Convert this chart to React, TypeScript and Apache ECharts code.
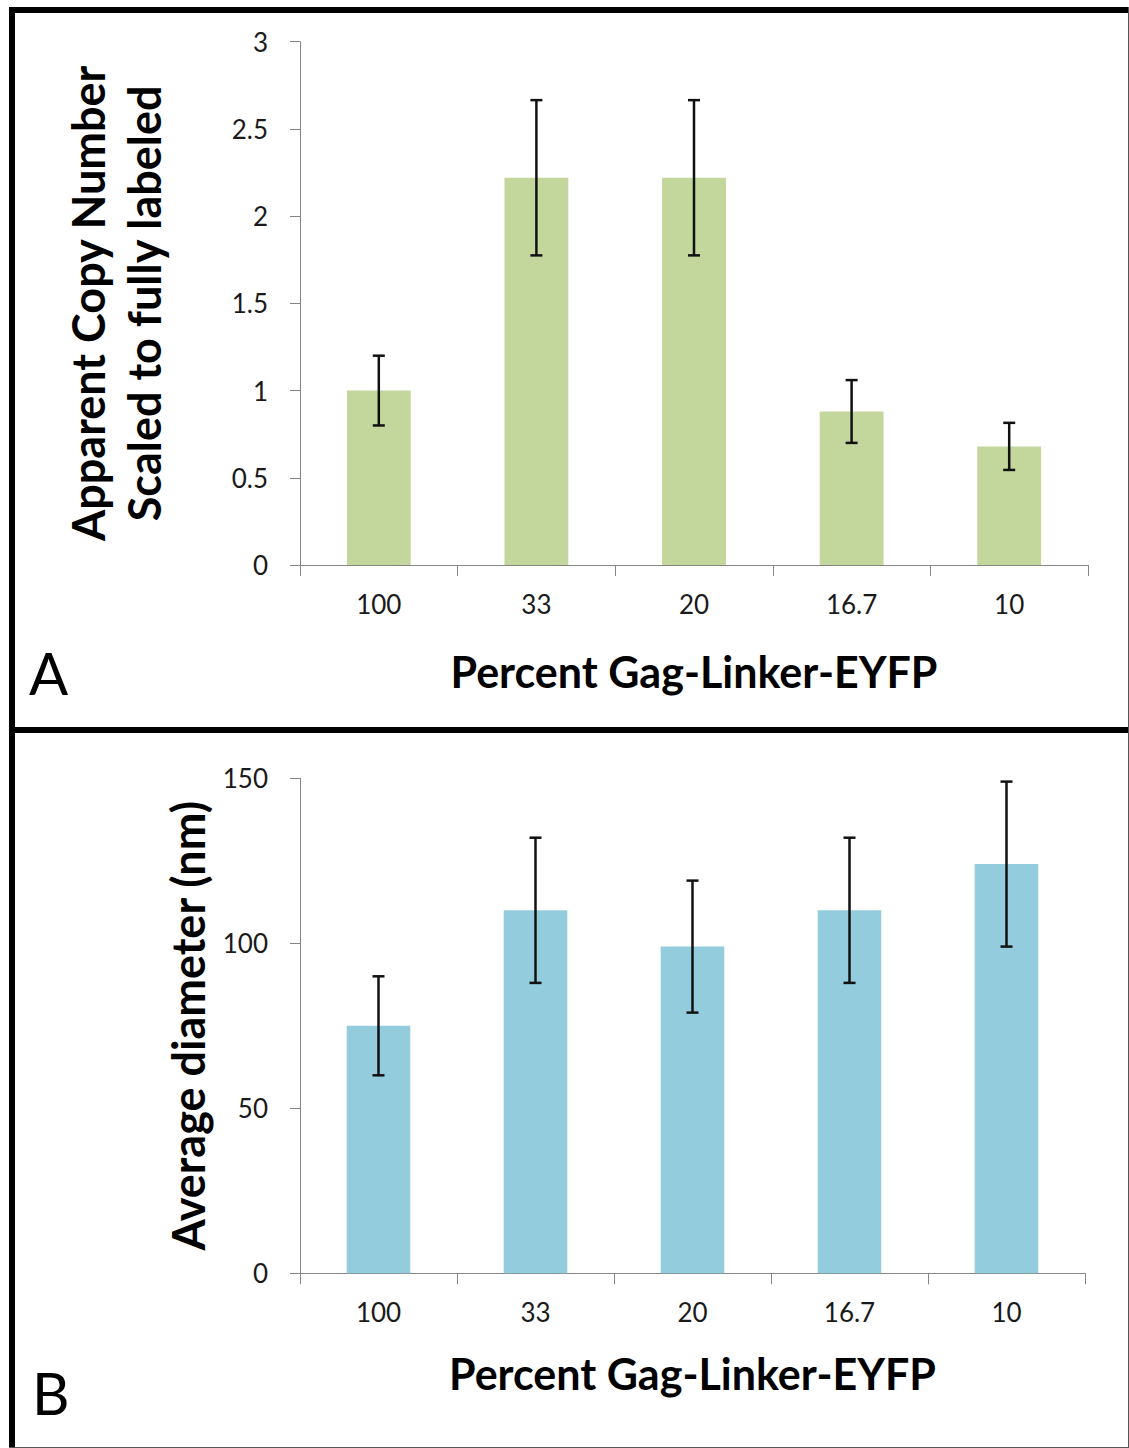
import React, { useEffect, useRef } from "react";
import * as echarts from "echarts";

// Gag-Linker-EYFP labeling fractions (x categories shared by both panels)
const categories = ["100", "33", "20", "16.7", "10"];

// Panel A: apparent copy number scaled to fully labeled, with error half-widths
const copyNumber = [1.0, 2.22, 2.22, 0.88, 0.68];
const copyNumberErr = [0.2, 0.445, 0.445, 0.18, 0.135];

// Panel B: average particle diameter (nm), with error half-widths
const diameter = [75, 110, 99, 110, 124];
const diameterErr = [15, 22, 20, 22, 25];

const FONT = "Lato, 'Open Sans', sans-serif";
const AXIS_GRAY = "#868686";
const TEXT = "#1a1a1a";

function errorRows(values: number[], errs: number[]) {
  return values.map((v, i) => [i, v - errs[i], v + errs[i]]);
}

function renderErrorBar(params: any, api: any) {
  const idx = api.value(0);
  const lo = api.coord([idx, api.value(1)]);
  const hi = api.coord([idx, api.value(2)]);
  const half = 6;
  const style = { stroke: "#111", lineWidth: 2.5 };
  return {
    type: "group",
    children: [
      { type: "line", shape: { x1: hi[0], y1: hi[1], x2: lo[0], y2: lo[1] }, style },
      { type: "line", shape: { x1: hi[0] - half, y1: hi[1], x2: hi[0] + half, y2: hi[1] }, style },
      { type: "line", shape: { x1: lo[0] - half, y1: lo[1], x2: lo[0] + half, y2: lo[1] }, style },
    ],
  };
}

function xAxisFor(gridIndex: number, nameGap: number) {
  return {
    type: "category",
    gridIndex,
    data: categories,
    name: "Percent Gag-Linker-EYFP",
    nameLocation: "middle",
    nameGap,
    nameTextStyle: { fontFamily: FONT, fontWeight: "bold", fontSize: 43, color: "#000" },
    axisLine: { show: true, lineStyle: { color: AXIS_GRAY, width: 1 } },
    axisTick: { show: true, length: 11, lineStyle: { color: AXIS_GRAY } },
    axisLabel: { fontFamily: FONT, fontSize: 26, color: TEXT, margin: 26 },
    splitLine: { show: false },
  };
}

export default function App() {
  const ref = useRef<HTMLDivElement>(null);

  useEffect(() => {
    if (!ref.current) return;
    const chart = echarts.init(ref.current, undefined, { renderer: "svg" });

    const option = {
      animation: false,
      backgroundColor: "#fff",
      grid: [
        { left: 300, top: 41.7, width: 788, height: 523.3 },
        { left: 300, top: 778.3, width: 785, height: 495 },
      ],
      xAxis: [xAxisFor(0, 85), xAxisFor(1, 79)],
      yAxis: [
        {
          type: "value",
          gridIndex: 0,
          min: 0,
          max: 3,
          interval: 0.5,
          name: "Apparent Copy Number\nScaled to fully labeled",
          nameLocation: "middle",
          nameGap: 128,
          nameTextStyle: {
            fontFamily: FONT,
            fontWeight: "bold",
            fontSize: 45,
            lineHeight: 56,
            color: "#000",
          },
          axisLine: { show: true, lineStyle: { color: AXIS_GRAY, width: 1 } },
          axisTick: { show: true, length: 10, lineStyle: { color: AXIS_GRAY } },
          axisLabel: { fontFamily: FONT, fontSize: 26, color: TEXT, margin: 32 },
          splitLine: { show: false },
        },
        {
          type: "value",
          gridIndex: 1,
          min: 0,
          max: 150,
          interval: 50,
          name: "Average diameter (nm)",
          nameLocation: "middle",
          nameGap: 90,
          nameTextStyle: { fontFamily: FONT, fontWeight: "bold", fontSize: 45, color: "#000" },
          axisLine: { show: true, lineStyle: { color: AXIS_GRAY, width: 1 } },
          axisTick: { show: true, length: 10, lineStyle: { color: AXIS_GRAY } },
          axisLabel: { fontFamily: FONT, fontSize: 26, color: TEXT, margin: 32 },
          splitLine: { show: false },
        },
      ],
      series: [
        {
          type: "bar",
          xAxisIndex: 0,
          yAxisIndex: 0,
          data: copyNumber,
          barWidth: "40.5%",
          itemStyle: { color: "#C3D69B" },
        },
        {
          type: "custom",
          xAxisIndex: 0,
          yAxisIndex: 0,
          data: errorRows(copyNumber, copyNumberErr),
          renderItem: renderErrorBar,
          z: 5,
        },
        {
          type: "bar",
          xAxisIndex: 1,
          yAxisIndex: 1,
          data: diameter,
          barWidth: "40.5%",
          itemStyle: { color: "#93CDDD" },
        },
        {
          type: "custom",
          xAxisIndex: 1,
          yAxisIndex: 1,
          data: errorRows(diameter, diameterErr),
          renderItem: renderErrorBar,
          z: 5,
        },
      ],
      graphic: [
        // panel frames
        { type: "rect", shape: { x: 9, y: 7, width: 6, height: 1441 }, style: { fill: "#000" } },
        { type: "rect", shape: { x: 9, y: 7, width: 1120, height: 6 }, style: { fill: "#000" } },
        { type: "rect", shape: { x: 9, y: 727, width: 1120, height: 6 }, style: { fill: "#000" } },
        { type: "line", shape: { x1: 1128.5, y1: 7, x2: 1128.5, y2: 1448 }, style: { stroke: "#555", lineWidth: 1 } },
        { type: "line", shape: { x1: 9, y1: 1447.5, x2: 1129, y2: 1447.5 }, style: { stroke: "#555", lineWidth: 1 } },
        // panel letters
        {
          type: "text",
          x: 29,
          y: 672,
          style: { text: "A", fontFamily: FONT, fontSize: 58, fill: "#000", verticalAlign: "middle" },
        },
        {
          type: "text",
          x: 32,
          y: 1392,
          style: { text: "B", fontFamily: FONT, fontSize: 58, fill: "#000", verticalAlign: "middle" },
        },
      ],
    };

    chart.setOption(option as any);
    return () => chart.dispose();
  }, []);

  return (
    <div
      ref={ref}
      style={{ position: "absolute", left: 0, top: 0, width: 1129, height: 1448 }}
    />
  );
}
